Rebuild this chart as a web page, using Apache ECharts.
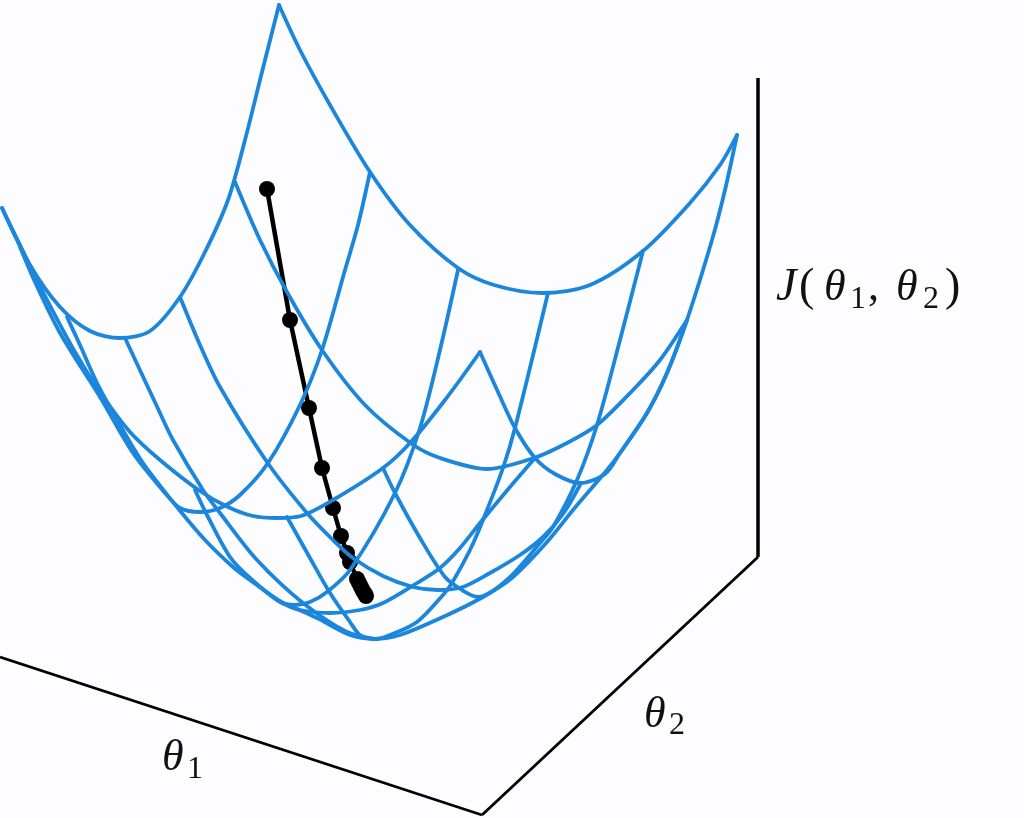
<!DOCTYPE html>
<html><head><meta charset="utf-8">
<style>html,body{margin:0;padding:0;background:#fdfdff}#c{width:1024px;height:818px}</style>
<script src="https://cdn.jsdelivr.net/npm/echarts@6/dist/echarts.min.js"></script>
</head><body><div id="c"></div>
<script>
// Curves, as [horizontal, vertical] readings.
const edgeBackLeft = [[2,208],[30,265],[60,307],[90,331],[120,338],[150,331],[180,297],[205,252],[228,200],[245,140],[262,72],[279,5]];
const edgeBackRight = [[279,5],[300,50],[330,105],[370,172],[410,225],[458,268],[494,285],[542,293],[590,285],[643,251],[690,203],[720,165],[737,135]];
const edgeFrontLeft = [[2,208],[20,245],[43,292],[75,352],[100,392],[130,432],[160,460],[200,491],[228,507],[253,516],[277,518],[301,516],[333,500],[383,468],[410,443],[445,400],[480,352]];
const edgeFrontRight = [[480,352],[498,392],[515,428],[535,458],[555,474],[580,483],[605,474],[620,453],[647,413],[667,373],[687,320],[712,240],[725,190],[737,135]];
const ribP1 = [[235,182],[260,240],[287,292],[322,350],[365,405],[412,444],[440,458],[487,469],[534,458],[567,443],[597,425],[633,390],[660,360],[687,320]];
const ribP2 = [[180,297],[200,345],[220,387],[267,462],[307,513],[333,540],[353,558],[383,576],[413,587],[438,590],[463,587],[490,573],[520,555],[543,537],[563,514],[580,485]];
const ribP3 = [[125,338],[160,413],[173,440],[203,490],[220,513],[257,560],[303,603],[347,632],[375,639]];
const ribP4 = [[67,317],[80,345],[97,383],[120,425],[143,463],[177,507],[205,540],[233,567],[250,580],[283,603],[300,610],[330,613],[360,610],[383,603],[417,583],[440,568],[460,548],[480,523],[510,487],[535,458]];
const ribQ1 = [[370,172],[358,225],[345,270],[322,350],[300,405],[268,463],[240,495],[220,508],[200,512],[180,508],[165,493],[133,453],[100,397],[60,333],[35,282],[20,247]];
const ribQ2 = [[458,270],[440,350],[420,428],[395,493],[350,570],[327,592],[310,602],[295,605],[280,602],[250,578],[230,557],[207,515],[195,490]];
const ribQ3 = [[548,293],[515,428],[503,468],[483,520],[470,550],[452,583],[443,595],[417,622],[390,635],[375,639],[360,635],[350,622],[330,593],[310,558],[287,517]];
const ribQ4 = [[643,251],[620,340],[597,425],[577,480],[553,527],[540,543],[515,572],[494,590],[478,597],[462,590],[445,577],[420,538],[395,493],[383,468]];
const envelope = [[283,603],[317,618],[350,635],[375,639],[400,635],[443,617],[483,597],[513,577],[547,542],[573,510],[607,470],[620,453],[647,413],[667,373],[687,320]];
const descentPath = [[267,189],[290,320],[309,408],[322,468],[333,508],[341,536],[347,553],[350,562],[357,579],[359,583],[361,587],[363,591],[365,594],[366,596]];
const axisVertical = [[758,78],[758,557]];
const axisTheta2 = [[758,557],[482,815]];
const axisTheta1 = [[482,815],[0,657]];
const meshCurves = [edgeBackLeft,edgeBackRight,edgeFrontLeft,edgeFrontRight,ribP1,ribP2,ribP3,ribP4,ribQ1,ribQ2,ribQ3,ribQ4,envelope];
const axisCurves = [axisVertical,axisTheta2,axisTheta1];

const BLUE = '#1c86dc';
const chart = echarts.init(document.getElementById('c'), null, {renderer:'canvas'});
const series = [];
axisCurves.forEach((d,i)=>series.push({type:'line',data:d,symbol:'none',silent:true,z:1,
  lineStyle:{color:'#000',width:i===0?3.5:2.8}}));
series.push({type:'line',data:descentPath,symbol:'circle',symbolSize:16,silent:true,z:2,
  itemStyle:{color:'#000'},lineStyle:{color:'#000',width:4.5}});
meshCurves.forEach(d=>series.push({type:'line',data:d,smooth:0.3,symbol:'none',silent:true,z:3,
  lineStyle:{color:BLUE,width:3.8,cap:'round',join:'round'}}));

const serif = '"Liberation Serif","DejaVu Serif",serif';
const t = (x,y,s,size,style)=>({type:'text',x,y,silent:true,z:10,
  style:{text:s,fontFamily:serif,fontSize:size,fontStyle:style||'normal',fill:'#111',textVerticalAlign:'middle'}});
chart.setOption({
  animation:false,
  backgroundColor:'#fdfdff',
  grid:{left:0,right:0,top:0,bottom:0},
  xAxis:{type:'value',min:0,max:1024,show:false},
  yAxis:{type:'value',min:0,max:818,inverse:true,show:false},
  series,
  graphic:[
    t(776,288,'J',46,'italic'),t(799,288,'(',46),t(824,288,'\u03b8',44,'italic'),
    t(850,300,'1',32),t(868,288,',',44),t(896,288,'\u03b8',44,'italic'),
    t(923,300,'2',32),t(945,288,')',46),
    t(162,758,'\u03b8',44,'italic'),t(187,770,'1',32),
    t(644,715,'\u03b8',44,'italic'),t(669,726,'2',32)
  ]
});
</script></body></html>
